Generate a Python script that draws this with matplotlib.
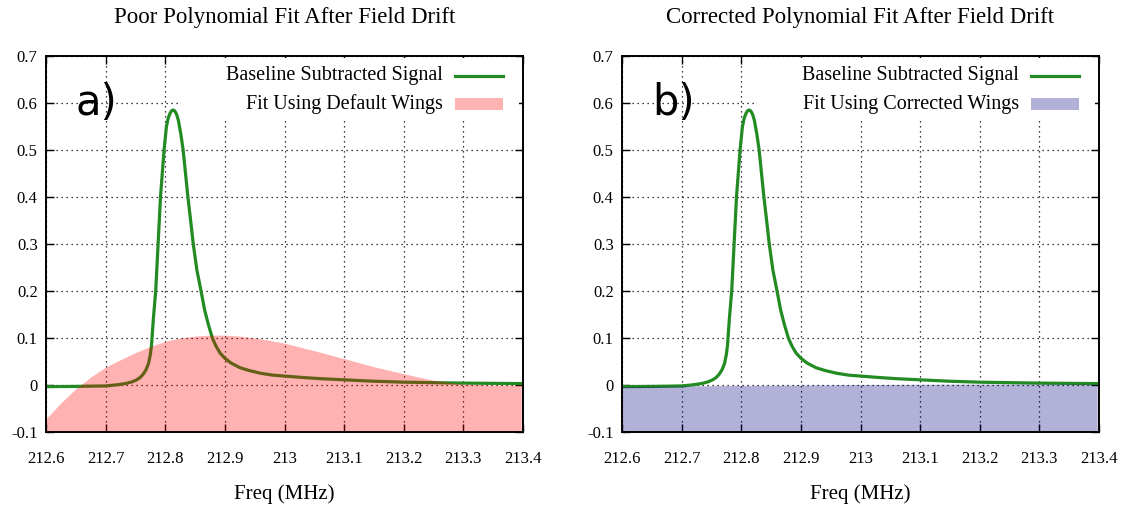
import numpy as np
import matplotlib
matplotlib.use("Agg")
import matplotlib.pyplot as plt
from matplotlib.lines import Line2D
from matplotlib.patches import Rectangle

plt.rcParams['font.family'] = ['Liberation Serif', 'DejaVu Serif']

# baseline subtracted NMR signal (MHz, arbitrary units)
freq = [212.6, 212.65, 212.7, 212.72, 212.735, 212.745, 212.752, 212.758, 212.763,
        212.768, 212.772, 212.775, 212.777, 212.78, 212.784, 212.788, 212.792, 212.795,
        212.798, 212.802, 212.805, 212.808, 212.811, 212.8135, 212.816, 212.819,
        212.822, 212.826, 212.83, 212.834, 212.838, 212.843, 212.847, 212.853, 212.86,
        212.866, 212.872, 212.879, 212.885, 212.892, 212.9, 212.91, 212.925, 212.94,
        212.96, 212.98, 213.0, 213.03, 213.06, 213.1, 213.15, 213.2, 213.25, 213.3,
        213.35, 213.4]
signal = [-0.0035, -0.003, -0.002, 0.0005, 0.0035, 0.007, 0.011, 0.016, 0.023,
          0.033, 0.046, 0.065, 0.085, 0.14, 0.2, 0.3, 0.4, 0.45,
          0.5, 0.55, 0.568, 0.578, 0.584, 0.585, 0.583, 0.576,
          0.563, 0.535, 0.5, 0.45, 0.4, 0.345, 0.3, 0.245, 0.2,
          0.16, 0.13, 0.1, 0.083, 0.068, 0.057, 0.047, 0.037, 0.031,
          0.025, 0.021, 0.019, 0.016, 0.0135, 0.011, 0.008, 0.006, 0.005, 0.004,
          0.0035, 0.003]

# polynomial fit with the default wings
fit_freq = [212.6, 212.625, 212.65, 212.675, 212.7, 212.725, 212.75, 212.775, 212.8,
            212.825, 212.85, 212.875, 212.9, 212.925, 212.95, 212.975, 213.0, 213.05,
            213.1, 213.15, 213.2, 213.25, 213.3, 213.35, 213.397]
default_fit = [-0.072, -0.038, -0.008, 0.017, 0.038, 0.054, 0.069, 0.082, 0.093,
               0.1, 0.104, 0.106, 0.106, 0.104, 0.1, 0.095, 0.089, 0.073,
               0.056, 0.039, 0.024, 0.01, 0.002, 0.0, 0.0]

# polynomial fit with the corrected wings
corr_freq = [212.6, 212.8, 213.0, 213.2, 213.397]
corrected_fit = [-0.003, -0.001, 0.001, 0.002, 0.002]

xticks = [212.6, 212.7, 212.8, 212.9, 213.0, 213.1, 213.2, 213.3, 213.4]
xticklabels = ['212.6', '212.7', '212.8', '212.9', '213', '213.1', '213.2', '213.3', '213.4']
yticks = [-0.1, 0, 0.1, 0.2, 0.3, 0.4, 0.5, 0.6, 0.7]
yticklabels = ['-0.1', '0', '0.1', '0.2', '0.3', '0.4', '0.5', '0.6', '0.7']

GREEN = '#228b22'

fig = plt.figure(figsize=(11.29, 5.09), dpi=100)


def key(ax, fcolor, flabel):
    # gnuplot style key: right aligned text, sample on the right, white box behind
    # the box hides the grid but stays under the curves
    ax.add_patch(Rectangle((0.277, 0.835), 0.715, 0.16, transform=ax.transAxes,
                           facecolor='white', edgecolor='none', zorder=2.6))
    ax.text(0.832, 0.947, 'Baseline Subtracted Signal', transform=ax.transAxes,
            ha='right', va='center', fontsize=14.5, zorder=6)
    ax.text(0.832, 0.872, flabel, transform=ax.transAxes,
            ha='right', va='center', fontsize=14.5, zorder=6)
    ax.add_line(Line2D([0.857, 0.958], [0.947, 0.947], transform=ax.transAxes,
                       color=GREEN, lw=2.3, zorder=6))
    ax.add_patch(Rectangle((0.857, 0.856), 0.101, 0.032, transform=ax.transAxes,
                           facecolor=fcolor, alpha=0.3, edgecolor='none', zorder=6))


def panel(rect, title, tag, fx, fy, fcolor, flabel):
    ax = fig.add_axes(rect)
    ax.plot(freq, signal, color=GREEN, lw=2.3, zorder=2.7)
    ax.fill_between(fx, -0.1, fy, color=fcolor, alpha=0.3, lw=0, zorder=2.8)
    ax.set_xlim(212.6, 213.4)
    ax.set_ylim(-0.1, 0.7)
    ax.set_xticks(xticks)
    ax.set_xticklabels(xticklabels)
    ax.set_yticks(yticks)
    ax.set_yticklabels(yticklabels)
    ax.set_axisbelow(False)
    ax.grid(True, color='black', lw=0.9, linestyle=(0, (1, 3)))
    ax.tick_params(direction='in', length=6, width=1, top=True, right=True,
                   labelsize=12, colors='black')
    ax.tick_params(axis='x', pad=14)
    ax.tick_params(axis='y', pad=6)
    for s in ax.spines.values():
        s.set_linewidth(1.4)
        s.set_zorder(7)
    ax.set_title(title, fontsize=16.5, pad=24)
    ax.set_xlabel('Freq (MHz)', fontsize=15, labelpad=12)
    ax.text(212.65, 0.6, tag, fontsize=30, va='center', ha='left',
            family='DejaVu Sans', zorder=6)
    key(ax, fcolor, flabel)
    return ax


panel([46 / 1129, 77 / 509, 477 / 1129, 376 / 509],
      'Poor Polynomial Fit After Field Drift', 'a)',
      fit_freq, default_fit, 'red', 'Fit Using Default Wings')
panel([622 / 1129, 77 / 509, 477 / 1129, 376 / 509],
      'Corrected Polynomial Fit After Field Drift', 'b)',
      corr_freq, corrected_fit, 'navy', 'Fit Using Corrected Wings')

fig.savefig('out.png', dpi=100)
